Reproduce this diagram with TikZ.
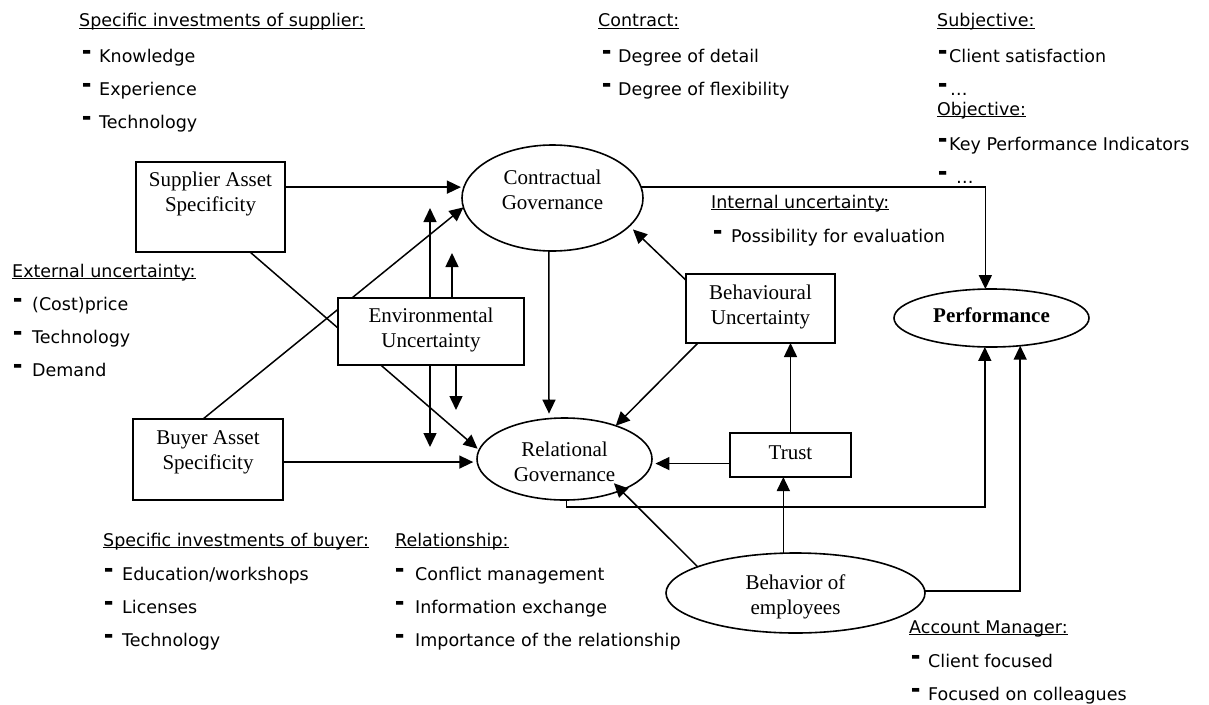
\documentclass[tikz,border=0pt]{standalone}
\usepackage{fontspec}
\setmainfont{Liberation Serif}
\newfontfamily\sansf{DejaVu Sans}
\usetikzlibrary{arrows.meta,calc,shapes.geometric}
\newsavebox\ulbox
\newcommand\ulx[1]{\sbox\ulbox{#1}\rlap{\rule[-0.13em]{\wd\ulbox}{0.07em}}\usebox\ulbox}
\newcommand\dsh[1]{\makebox[#1pt][l]{\raisebox{0.11em}{\scalebox{1.05}[1.7]{\textbf{–}}}}}
\begin{document}
\begin{tikzpicture}[x=1pt,y=-1pt,
  box/.style={draw, line width=1.6pt, fill=white, inner sep=0pt, outer sep=0pt},
  ell/.style={draw, ellipse, line width=1.6pt, fill=white, inner sep=0pt, outer sep=0pt},
  lbl/.style={font=\fontsize{21}{25}\selectfont, align=center, inner sep=0pt},
  note/.style={font=\sansf\fontsize{17.5}{21}\selectfont, anchor=base west, inner sep=0pt},
  arr/.style={line width=1.5pt, -{Triangle[length=14pt,width=13pt]}},
]
\useasboundingbox (0,0) rectangle (1209,704);

% shapes
\node[box, minimum width=149pt, minimum height=90pt] (sas) at (210.5,207) {};
\node[lbl] (sasT) at (210.5,194) {Supplier Asset\\Specificity};
\node[box, minimum width=150pt, minimum height=81pt] (bas) at (208,459.5) {};
\node[lbl] (basT) at (208,452) {Buyer Asset\\Specificity};
\node[ell, minimum width=181pt, minimum height=106pt] (cg) at (552.5,198) {};
\node[lbl] (cgT) at (552.5,190) {Contractual\\Governance};
\node[ell, minimum width=175pt, minimum height=82pt] (rg) at (564.5,459) {};
\node[lbl] (rgT) at (564.5,462) {Relational\\Governance};
\node[box, minimum width=149pt, minimum height=69pt] (bu) at (760.5,308.5) {};
\node[lbl] (buT) at (760.5,307) {Behavioural\\Uncertainty};
\node[box, minimum width=121pt, minimum height=44pt] (trust) at (790.5,455) {};
\node[lbl] (trustT) at (790.5,453) {Trust};
\node[ell, minimum width=195pt, minimum height=58pt] (perf) at (991.5,318) {};
\node[lbl] (perfT) at (991.5,315) {\bfseries Performance};
\node[ell, minimum width=259pt, minimum height=80pt] (be) at (795.5,593) {};
\node[lbl] (beT) at (795.5,597) {Behavior of\\employees};

% lines passing behind the environmental box
\draw[arr, shorten >=2pt] ($(sas.south west)!0.765!(sas.south east)$) -- (rg.174);
\draw[arr] ($(bas.north west)!0.467!(bas.north east)$) -- (cg.186);

\node[box, minimum width=186pt, minimum height=67pt] (env) at (431,331.5) {};
\node[lbl] (envT) at (431,330) {Environmental\\Uncertainty};

% free ends of the environmental arrows
\coordinate (eu1) at (430,208);
\coordinate (eu2) at (452,253);
\coordinate (ed1) at (430,447);
\coordinate (ed2) at (456,410);
\draw[arr] (env.north -| eu1) -- (eu1);
\draw[arr] (env.north -| eu2) -- (eu2);
\draw[arr] (env.south -| ed1) -- (ed1);
\draw[arr] (env.south -| ed2) -- (ed2);

% other connectors
\draw[arr, shorten >=3pt] (sas.east |- cg.173) -- (cg.173);
\draw[arr, shorten >=4pt] (bas.east |- rg.182.6) -- (rg.182.6);
\draw[arr, shorten >=5pt] (cg.266.2) -- (rg.111);
\draw[arr, shorten >=5pt] ($(bu.north west)!0.09!(bu.south west)$) -- (cg.340.6);
\draw[arr] ($(bu.south west)!0.08!(bu.south east)$) -- (rg.33.8);
\draw[arr] (trust.north) -- (trust.north |- bu.south);
\draw[arr, shorten >=4pt] (trust.west |- rg.357.4) -- (rg.357.4);
\draw[arr] (be.107.4) -- (be.107.4 |- trust.south);
\draw[arr, shorten >=-10pt] (be.165.1) -- (rg.331.6);
\draw[arr] (rg.273.5) -- ++(0,7) -| (perf.257.3);
\draw[arr] (cg.7.1) -| (perf.102.7);
\draw[arr] (be.1.8) -| (perf.316.9);

% annotations
\node[note] (a0) at (79,27) {\ulx{Specific investments of supplier:}};
\node[note] (a1) at (82,62) {\dsh{17}Knowledge};
\node[note] (a2) at (82,95) {\dsh{17}Experience};
\node[note] (a3) at (82,128) {\dsh{17}Technology};

\node[note] (c0) at (598,27) {\ulx{Contract:}};
\node[note] (c1) at (602,62) {\dsh{16}Degree of detail};
\node[note] (c2) at (602,95) {\dsh{16}Degree of flexibility};

\node[note] (s0) at (937,27) {\ulx{Subjective:}};
\node[note] (s1) at (938,62) {\dsh{11}Client satisfaction};
\node[note] (s2) at (938,95) {\dsh{12}…};
\node[note] (o0) at (937,115) {\ulx{Objective:}};
\node[note] (o1) at (938,150) {\dsh{11}Key Performance Indicators};
\node[note] (o2) at (938,183) {\dsh{18}…};

\node[note] (i0) at (711,208) {\ulx{Internal uncertainty:}};
\node[note] (i1) at (713,242) {\dsh{18}Possibility for evaluation};

\node[note] (e0) at (12,277) {\ulx{External uncertainty:}};
\node[note] (e1) at (13,310) {\dsh{19}(Cost)price};
\node[note] (e2) at (13,343) {\dsh{19}Technology};
\node[note] (e3) at (13,376) {\dsh{19}Demand};

\node[note] (b0) at (103,546) {\ulx{Specific investments of buyer:}};
\node[note] (b1) at (104,580) {\dsh{18}Education/workshops};
\node[note] (b2) at (104,613) {\dsh{18}Licenses};
\node[note] (b3) at (104,646) {\dsh{18}Technology};

\node[note] (r0) at (395,546) {\ulx{Relationship:}};
\node[note] (r1) at (395,580) {\dsh{20}Conflict management};
\node[note] (r2) at (395,613) {\dsh{20}Information exchange};
\node[note] (r3) at (395,646) {\dsh{20}Importance of the relationship};

\node[note] (m0) at (909,633) {\ulx{Account Manager:}};
\node[note] (m1) at (911,667) {\dsh{17}Client focused};
\node[note] (m2) at (911,700) {\dsh{17}Focused on colleagues};
\end{tikzpicture}
\end{document}
